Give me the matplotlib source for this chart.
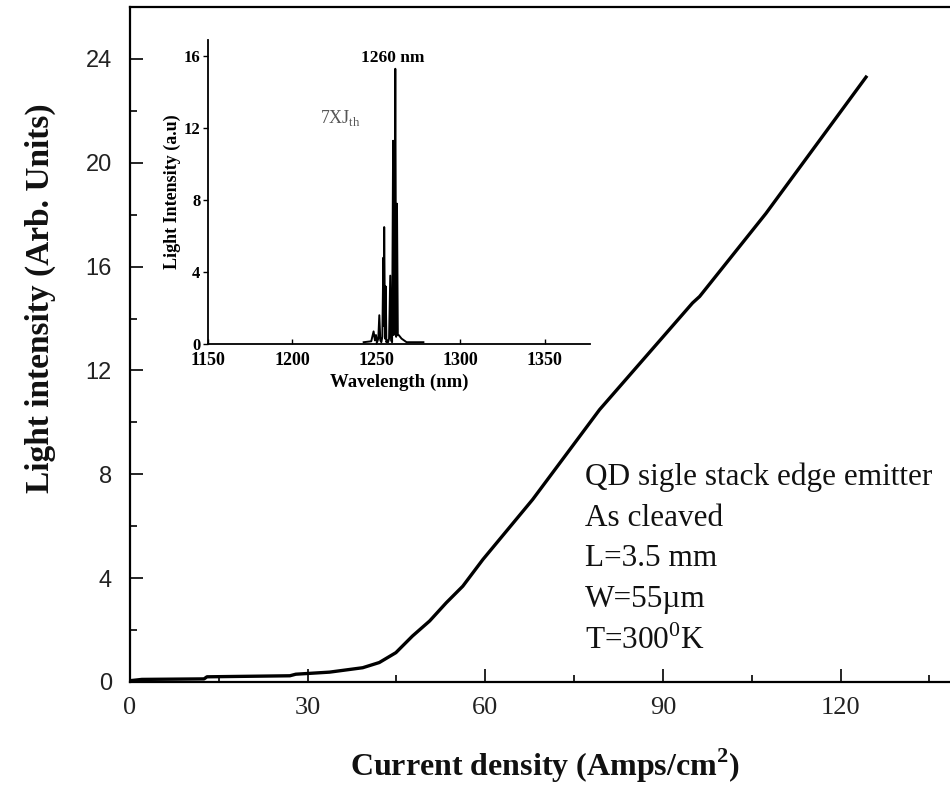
"""L-I curve of a QD single-stack edge emitter with lasing spectrum inset."""
import matplotlib
matplotlib.use("Agg")
import matplotlib.pyplot as plt
from matplotlib.ticker import MultipleLocator

# main curve: current density (A/cm^2) vs light intensity (arb. units)
current_density = [0, 2, 12.5, 13, 27, 28, 33.7, 39.3, 42.1, 44.9, 47.7, 50.6,
                   53.4, 56.2, 59.6, 68, 79.3, 95, 96.2, 107.4, 124.3]
light_intensity = [0.05, 0.1, 0.12, 0.2, 0.24, 0.3, 0.38, 0.55, 0.75, 1.13,
                   1.77, 2.35, 3.05, 3.69, 4.72, 7.03, 10.49, 14.6, 14.85,
                   18.05, 23.3]

# inset spectrum at 7 x Jth
wavelength = [1242.5, 1247, 1248.4, 1249.2, 1249.8, 1250.5, 1251.2, 1251.8,
              1252.4, 1253, 1253.6, 1254.2, 1254.4, 1254.7, 1255.2, 1255.6,
              1256, 1256.4, 1257, 1257.6, 1258.3, 1258.8, 1259.4, 1260,
              1260.4, 1260.8, 1261.3, 1261.8, 1262.3, 1262.8, 1263.3, 1265,
              1268, 1270, 1278]
spectrum = [0.1, 0.15, 0.7, 0.2, 0.5, 0.1, 0.3, 1.6, 0.2, 0.1, 0.4, 4.8, 1.0,
            6.5, 0.3, 3.2, 0.1, 0.2, 0.1, 0.3, 3.8, 0.2, 0.1, 11.3, 0.5, 2.0,
            15.3, 0.4, 7.8, 0.5, 0.5, 0.3, 0.1, 0.1, 0.1]

x_ticks = [0, 30, 60, 90, 120]
y_ticks = [0, 4, 8, 12, 16, 20, 24]
inset_x_ticks = [1150, 1200, 1250, 1300, 1350]
inset_y_ticks = [0, 4, 8, 12, 16]

notes = ["QD sigle stack edge emitter", "As cleaved", "L=3.5 mm",
         "W=55\u00b5m", "T=300$^{\\mathregular{0}}$K"]

serif = "Liberation Serif"

fig = plt.figure(figsize=(9.5, 7.94), dpi=100)
fig.set_facecolor("white")

ax = fig.add_axes([130 / 950, 1 - 682 / 794, 829 / 950, 675 / 794])
ax.plot(current_density, light_intensity, color="black", lw=2.4)
ax.set_xlim(0, 140)
ax.set_ylim(0, 26)
ax.set_xticks(x_ticks)
ax.set_yticks(y_ticks)
ax.xaxis.set_minor_locator(MultipleLocator(15))
ax.yaxis.set_minor_locator(MultipleLocator(2))
ax.tick_params(which="both", direction="in", width=1.2, colors="black")
ax.tick_params(which="major", length=9.5)
ax.tick_params(which="minor", length=5)
ax.tick_params(axis="x", pad=11, labelsize=19, labelcolor="#222222")
ax.tick_params(axis="y", pad=13, labelsize=17, labelcolor="#222222")
for lbl in ax.get_xticklabels():
    lbl.set_family(serif)
for lbl in ax.get_yticklabels():
    lbl.set_family("Liberation Sans")
ax.spines["right"].set_visible(False)
for side in ("left", "bottom", "top"):
    ax.spines[side].set_linewidth(1.6)

fig.text(545 / 950, 1 - 776 / 794, "Current density (Amps/cm$^{\\mathregular{2}}$)",
         family=serif, fontweight="bold", fontsize=23, ha="center",
         va="baseline", color="#111111")
fig.text(40 / 950, 1 - 298 / 794, "Light intensity (Arb. Units)",
         family=serif, fontweight="bold", fontsize=24, ha="center", va="center",
         rotation=90, color="#111111")

for i, line in enumerate(notes):
    ax.text(585 / 950, 1 - (477 + 41 * i) / 794, line, transform=fig.transFigure,
            family=serif, fontsize=22.5, ha="left", va="center", color="#111111")

# inset spectrum
ins = fig.add_axes([208 / 950, 1 - 344 / 794, 382 / 950, 304 / 794])
ins.plot(wavelength, spectrum, color="black", lw=1.4)
ins.set_xlim(1150, 1377)
ins.set_ylim(0, 16.9)
ins.set_xticks(inset_x_ticks)
ins.set_yticks(inset_y_ticks)
ins.spines["right"].set_visible(False)
ins.spines["top"].set_visible(False)
ins.spines["left"].set_linewidth(1.3)
ins.spines["bottom"].set_linewidth(1.3)
ins.tick_params(axis="x", direction="in", length=3.5, width=1, pad=6, labelsize=13)
ins.tick_params(axis="y", direction="out", length=3.5, width=1, pad=2, labelsize=12)
for lbl in ins.get_xticklabels() + ins.get_yticklabels():
    lbl.set_family(serif)
    lbl.set_fontweight("bold")
ins.set_xlabel("Wavelength (nm)", family=serif, fontweight="bold", fontsize=13.5,
               labelpad=3)
ins.set_ylabel("Light Intensity (a.u)", family=serif, fontweight="bold",
               fontsize=13, labelpad=2)
ins.text(1259.5, 15.9, "1260 nm", family=serif, fontweight="bold", fontsize=12.5,
         ha="center", va="center")
ins.text(1228.6, 12.55, "7XJ$_{\\mathregular{th}}$", family=serif, fontsize=13,
         ha="center", va="center", color="#555555")

fig.savefig("out.png", dpi=100)
